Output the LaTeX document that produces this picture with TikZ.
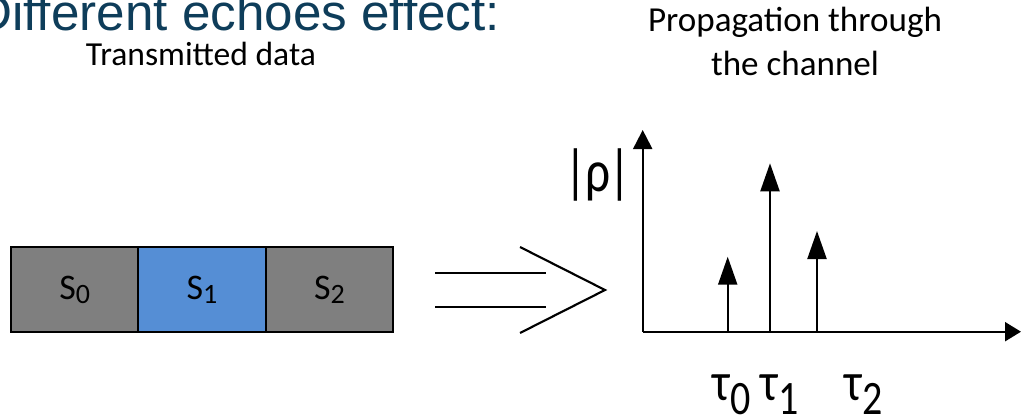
\documentclass[tikz,border=0pt]{standalone}
\usepackage{fontspec}
\usepackage{graphicx}
\setmainfont{Carlito}
\newfontfamily\headfont{Liberation Sans}
\usetikzlibrary{arrows.meta}
\definecolor{headblue}{RGB}{14,61,90}
\definecolor{symgrey}{RGB}{127,127,127}
\definecolor{symblue}{RGB}{85,142,213}
% symbol label with a lowered index
\newcommand{\symlabel}[1]{S\raisebox{-3pt}{\fontsize{21}{21}\selectfont #1}}
% delay label with a lowered index, set a little taller than wide
\newcommand{\delaylabel}[1]{\scalebox{1}[1.2]{τ\raisebox{-9pt}{\fontsize{30}{30}\selectfont #1}}}
\begin{document}
\begin{tikzpicture}[x=0.75pt,y=-0.75pt,
  symbol/.style={draw=black, line width=1.5pt, minimum width=95.5pt,
    minimum height=63.75pt, inner sep=0pt, outer sep=0pt,
    font=\fontsize{27}{27}\selectfont},
  caption/.style={align=center, inner sep=0pt},
  stroke/.style={line width=1.6pt},
  spike/.style={line width=1.6pt, -{Triangle[length=21pt,width=14.25pt]}},
  vaxis/.style={line width=1.6pt, -{Triangle[length=14.25pt,width=14.25pt]}},
  haxis/.style={line width=1.6pt, -{Triangle[length=12pt,width=14.25pt]}},
  delay/.style={font=\fontsize{34}{34}\selectfont, inner sep=0pt, anchor=base}
]
\clip (0,0) rectangle (1021,418);
\useasboundingbox (0,0) rectangle (1021,418);

% heading
\node[anchor=base west, inner sep=0pt, text=headblue,
  font=\headfont\fontsize{38.4}{38.4}\selectfont] (head) at (-25,30.7) {Different echoes effect:};

% captions
\node[caption, anchor=base, font=\fontsize{25.2}{32}\selectfont] (txcap) at (201,65) {Transmitted data};
\node[caption, anchor=base, font=\fontsize{26.3}{32.3}\selectfont] (chcap) at (795,75) {Propagation through\\the channel};

% transmitted symbols
\node[symbol, fill=symgrey] (s0) at (74.7,289.5) {\symlabel{0}};
\node[symbol, fill=symblue, anchor=west] (s1) at (s0.east) {\symlabel{1}};
\node[symbol, fill=symgrey, anchor=west] (s2) at (s1.east) {\symlabel{2}};

% double arrow
\coordinate (a1) at (435,272.7);
\coordinate (a2) at (546,272.7);
\coordinate (b1) at (435,306.7);
\coordinate (b2) at (546,306.7);
\coordinate (c1) at (520,247);
\coordinate (ctip) at (605,290);
\coordinate (c2) at (520,333);
\draw[stroke] (a1) -- (a2);
\draw[stroke] (b1) -- (b2);
\draw[stroke] (c1) -- (ctip) -- (c2);

% channel impulse response
\coordinate (o) at (642.7,331.7);
\coordinate (ytop) at (642.7,130);
\coordinate (xend) at (1021,331.7);
\draw[vaxis] (o) -- (ytop);
\draw[haxis] (o) -- (xend);
\node[font=\fontsize{37}{37}\selectfont, inner sep=0pt, anchor=base] (rho) at (598,191)
  {\scalebox{1}[1.2]{|\kern-1.5ptρ\kern-1.5pt|}};

\coordinate (p0) at (727.7,331.7);
\coordinate (q0) at (727.7,256.7);
\coordinate (p1) at (770,331.7);
\coordinate (q1) at (770,163.3);
\coordinate (p2) at (817,331.7);
\coordinate (q2) at (817,231);
\draw[spike] (p0) -- (q0);
\draw[spike] (p1) -- (q1);
\draw[spike] (p2) -- (q2);

\node[delay] (tau0) at (731.5,400) {\delaylabel{0}};
\node[delay] (tau1) at (779.5,400) {\delaylabel{1}};
\node[delay] (tau2) at (863.5,400) {\delaylabel{2}};
\end{tikzpicture}
\end{document}
